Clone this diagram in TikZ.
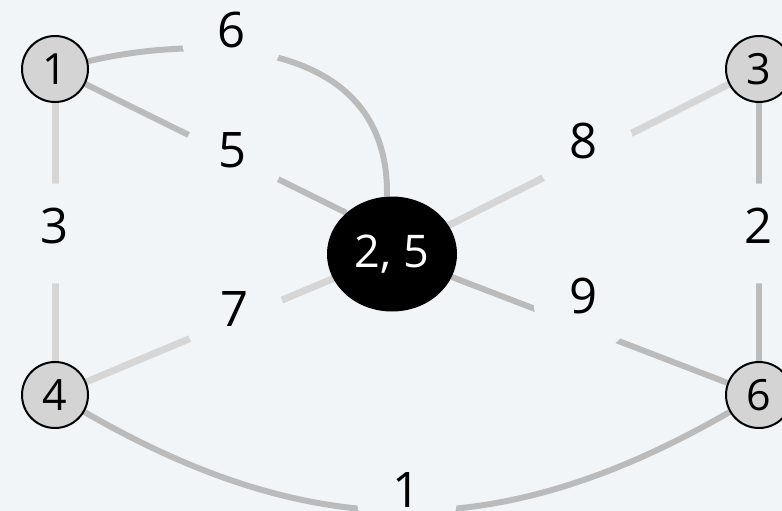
\documentclass[tikz,border=0pt]{standalone}
\usepackage{fontspec}
\setmainfont{Open Sans}
\usetikzlibrary{shapes.geometric}
\definecolor{bg}{HTML}{F2F5F8}
\definecolor{edark}{HTML}{BBBBBB}
\definecolor{elight}{HTML}{D6D6D6}
\definecolor{vfill}{HTML}{D4D4D4}
\pgfdeclarelayer{edgelayer}
\pgfdeclarelayer{labellayer}
\pgfsetlayers{edgelayer,labellayer,main}
\begin{document}
\begin{tikzpicture}[x=1pt,y=-1pt,
  vtx/.style={circle, draw=black, line width=2pt, fill=vfill, minimum size=66pt, inner sep=0pt, font=\fontsize{43}{43}\selectfont},
  hub/.style={ellipse, fill=black, minimum width=130pt, minimum height=115pt, inner sep=0pt, text=white, font=\fontsize{45}{45}\selectfont},
  wlabel/.style={circle, fill=bg, minimum size=100pt, inner sep=0pt, text depth=16pt, font=\fontsize{49}{49}\selectfont},
  dark/.style={draw=edark, line width=6pt},
  light/.style={draw=elight, line width=7pt}]
\useasboundingbox (0,0) rectangle (782,511);
% vertices
\node[vtx] (n1) at (55,69) {1};
\node[vtx] (n3) at (759,69) {3};
\node[vtx] (n4) at (55,395) {4};
\node[vtx] (n6) at (759,395) {6};
\node[hub] (c) at (392,254) {2, 5};
% weight labels (gaps in the edges)
\begin{pgfonlayer}{labellayer}
\node[wlabel] (w6) at (232,38) {6};
\node[wlabel] (w5) at (233,158) {5};
\node[wlabel] (w3) at (55,233.5) {3};
\node[wlabel] (w7) at (235,317.5) {7};
\node[wlabel] (w8) at (584,149) {8};
\node[wlabel] (w2) at (759,233.5) {2};
\node[wlabel] (w9) at (584,304) {9};
\node[wlabel] (w1) at (407,498.5) {1};
\end{pgfonlayer}
% edges
\begin{pgfonlayer}{edgelayer}
\fill[bg] (0,0) rectangle (782,511);
\draw[light] (n1) -- (n4);
\draw[dark] (n3) -- (n6);
\draw[dark] (n1) -- (c.138);
\draw[dark] (n1) .. controls (200,35) and (390,35) .. (c.95);
\draw[light] (n4) -- (c);
\draw[light] (c) -- (n3);
\draw[dark] (c) -- (n6);
\draw[dark] (n4) .. controls (313,544) and (501,544) .. (n6);
\end{pgfonlayer}
\end{tikzpicture}
\end{document}
